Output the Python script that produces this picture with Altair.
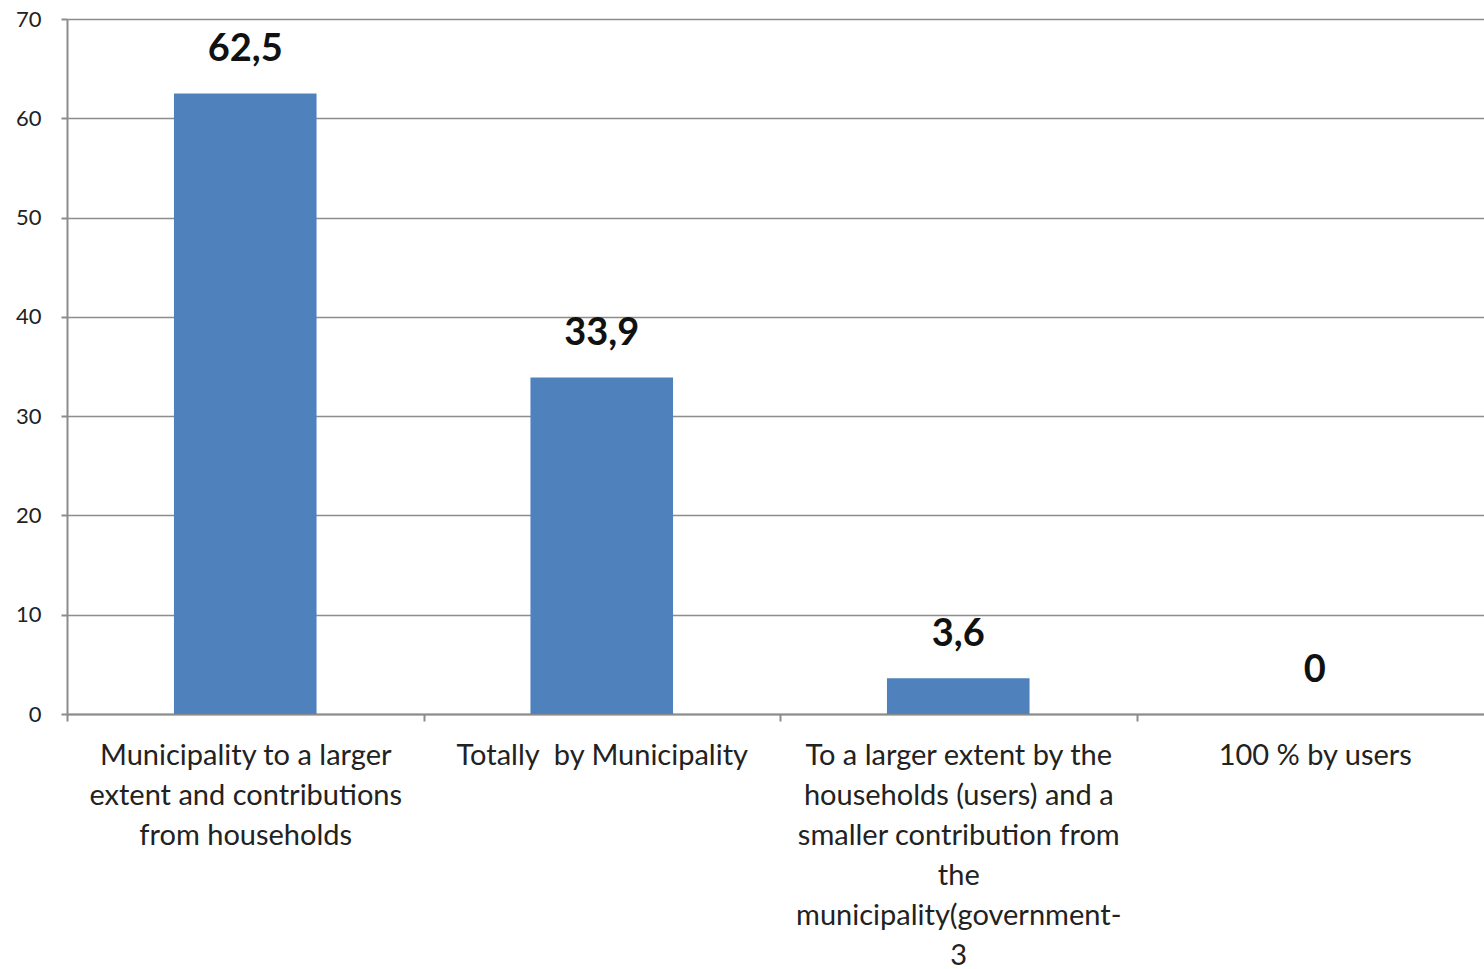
import altair as alt
import pandas as pd

categories = [
    "Municipality to a larger|extent and contributions|from households",
    "Totally\u00a0 by Municipality",
    "To a larger extent by the|households (users) and a|smaller contribution from|the|municipality(government-|3",
    "100 % by users",
]
values = [62.5, 33.9, 3.6, 0]
value_labels = ["62,5", "33,9", "3,6", "0"]

df = pd.DataFrame({"cat": categories, "val": values, "lbl": value_labels})

FONT = "Lato"
GRID = "#8c8c8c"

x = alt.X(
    "cat:N",
    sort=categories,
    title=None,
    scale=alt.Scale(paddingInner=0, paddingOuter=0, range=[0, 1426]),
    axis=alt.Axis(
        labelExpr="split(datum.label, '|')",
        labelAngle=0,
        labelFont=FONT,
        labelFontSize=29,
        labelColor="#222222",
        labelLineHeight=40,
        labelPadding=20,
        labelLimit=0,
        labelBaseline="top",
        tickBand="extent",
        tickSize=7,
        tickColor=GRID,
        domainColor=GRID,
        domainWidth=2,
        tickWidth=2,
        grid=False,
    ),
)

y = alt.Y(
    "val:Q",
    title=None,
    scale=alt.Scale(domain=[0, 70], nice=False),
    axis=alt.Axis(
        values=[0, 10, 20, 30, 40, 50, 60, 70],
        labelFont=FONT,
        labelFontSize=22,
        labelColor="#222222",
        labelPadding=20,
        tickSize=6,
        tickColor=GRID,
        tickWidth=2,
        domainColor=GRID,
        domainWidth=2,
        grid=True,
        gridColor=GRID,
        gridWidth=1.5,
    ),
)

bars = alt.Chart(df).mark_bar(
    color="#4F81BD", width=alt.RelativeBandSize(0.4)
).encode(x=x, y=y)

text = alt.Chart(df).mark_text(
    font=FONT, fontSize=38, fontWeight="bold", color="#111111",
    baseline="middle", dy=-43,
).encode(x=alt.X("cat:N", sort=categories), y="val:Q", text="lbl:N")

chart = (
    alt.layer(bars, text)
    .properties(
        width=1417,
        height=695,
        autosize=alt.AutoSizeParams(type="none"),
        padding={"left": 67, "top": 19, "right": 0, "bottom": 255},
    )
    .configure_view(stroke=None)
    .configure(background="white")
)

chart.save("out.html", embed_options={"renderer": "svg", "actions": False})
